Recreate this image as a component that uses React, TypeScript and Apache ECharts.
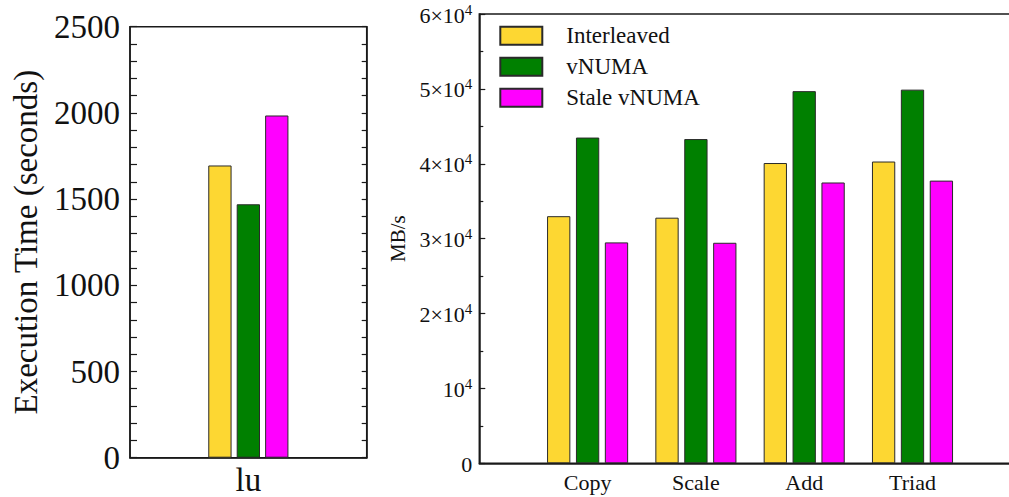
import React, { useEffect, useRef } from "react";
import * as echarts from "echarts";

const FONT = "Liberation Serif";

// Execution time for the lu benchmark
const luCategories = ["lu"];
const luInterleaved = [1695];
const luVnuma = [1470];
const luStaleVnuma = [1985];

// STREAM bandwidth (MB/s)
const streamCategories = ["Copy", "Scale", "Add", "Triad"];
const streamInterleaved = [33000, 32800, 40100, 40300];
const streamVnuma = [43500, 43300, 49700, 49900];
const streamStaleVnuma = [29500, 29450, 37500, 37750];

const seriesNames = ["Interleaved", "vNUMA", "Stale vNUMA"];
const colors = ["#FDD732", "#008000", "#FF00FF"];

const timeTicks = { min: 0, max: 2500, interval: 500 };
const bwTicks = { min: 0, max: 60000, interval: 10000 };

// pad the stream categories so that the groups sit on the inner ticks
const pad = <T,>(arr: T[], fill: T) => [fill, ...arr, fill];

export default function App() {
  const ref = useRef<HTMLDivElement>(null);

  useEffect(() => {
    if (!ref.current) return;
    const chart = echarts.init(ref.current, undefined, { renderer: "svg" });
    const axisLine = { show: true, lineStyle: { color: "#1a1a1a", width: 1.5 } };
    const barStyle = (i: number) => ({
      color: colors[i],
      borderColor: "#2a2a2a",
      borderWidth: 1,
    });

    const supLabel = (v: number) => {
      if (v === 0) return "{b|0}";
      const m = v / 10000;
      if (m === 1) return "{b|10}{s|4}";
      return `{b|${m}\u00d710}{s|4}`;
    };

    const luSets = [luInterleaved, luVnuma, luStaleVnuma];
    const bwSets = [streamInterleaved, streamVnuma, streamStaleVnuma];

    chart.setOption({
      animation: false,
      textStyle: { fontFamily: FONT },
      grid: [
        {
          left: 130,
          top: 26.7,
          right: 642.3,
          bottom: 39.3,
          show: true,
          borderColor: "#1a1a1a",
          borderWidth: 1.5,
          backgroundColor: "transparent",
          outerBoundsMode: "none",
        },
        {
          left: 479.3,
          top: 14,
          right: -11.8,
          bottom: 33.7,
          show: true,
          borderColor: "#1a1a1a",
          borderWidth: 1.5,
          backgroundColor: "transparent",
          outerBoundsMode: "none",
        },
      ],
      legend: {
        orient: "vertical",
        left: 499.3,
        top: 24.3,
        padding: 0,
        itemWidth: 42,
        itemHeight: 18,
        itemGap: 8,
        icon: "rect",
        data: seriesNames,
        selectedMode: false,
        textStyle: {
          fontFamily: FONT,
          fontSize: 23,
          color: "#111",
          padding: [0, 0, 0, 19],
        },
      },
      xAxis: [
        {
          type: "category",
          gridIndex: 0,
          data: luCategories,
          axisLine,
          axisTick: { show: false },
          axisLabel: { fontFamily: FONT, fontSize: 33, color: "#111", margin: 6 },
        },
        {
          type: "category",
          gridIndex: 1,
          data: pad(streamCategories, ""),
          boundaryGap: false,
          axisLine,
          axisTick: { show: false },
          axisLabel: { fontFamily: FONT, fontSize: 22, color: "#111", margin: 8, interval: 0 },
        },
      ],
      yAxis: [
        {
          type: "value",
          gridIndex: 0,
          ...timeTicks,
          name: "Execution Time (seconds)",
          nameLocation: "middle",
          nameGap: 88,
          nameTextStyle: { fontFamily: FONT, fontSize: 33, color: "#111" },
          axisLine,
          axisTick: { show: true, inside: true, length: 7, lineStyle: { color: "#1a1a1a", width: 1.2 } },
          minorTick: { show: true, splitNumber: 5, length: 7, lineStyle: { color: "#1a1a1a", width: 1.2 } },
          splitLine: { show: false },
          axisLabel: { fontFamily: FONT, fontSize: 33, color: "#111", margin: 10, formatter: (v: number) => String(v) },
        },
        {
          type: "value",
          gridIndex: 0,
          position: "right",
          ...timeTicks,
          axisLine,
          axisTick: { show: true, inside: true, length: 5, lineStyle: { color: "#1a1a1a", width: 1.2 } },
          minorTick: { show: true, splitNumber: 5, length: 5, lineStyle: { color: "#1a1a1a", width: 1.2 } },
          splitLine: { show: false },
          axisLabel: { show: false },
        },
        {
          type: "value",
          gridIndex: 1,
          ...bwTicks,
          name: "MB/s",
          nameLocation: "middle",
          nameGap: 66,
          nameTextStyle: { fontFamily: FONT, fontSize: 21, color: "#111" },
          axisLine,
          axisTick: { show: true, inside: true, length: 6, lineStyle: { color: "#1a1a1a", width: 1.2 } },
          minorTick: { show: true, splitNumber: 2, length: 4, lineStyle: { color: "#1a1a1a", width: 1.2 } },
          splitLine: { show: false },
          axisLabel: {
            margin: 7,
            formatter: supLabel,
            rich: {
              b: { fontFamily: FONT, fontSize: 22, color: "#111", lineHeight: 24, verticalAlign: "bottom" },
              s: { fontFamily: FONT, fontSize: 15, color: "#111", verticalAlign: "top", lineHeight: 15 },
            },
          },
        },
      ],
      series: [
        ...seriesNames.map((name, i) => ({
          type: "bar",
          name,
          xAxisIndex: 0,
          yAxisIndex: 0,
          data: luSets[i],
          barWidth: 23.3,
          barGap: "22%",
          itemStyle: barStyle(i),
        })),
        ...seriesNames.map((name, i) => ({
          type: "bar",
          name,
          xAxisIndex: 1,
          yAxisIndex: 2,
          data: pad(bwSets[i] as (number | null)[], null),
          barWidth: 23.3,
          barGap: "24%",
          itemStyle: barStyle(i),
        })),
      ],
    });

    return () => chart.dispose();
  }, []);

  return (
    <div
      ref={ref}
      style={{ position: "absolute", left: 0, top: 0, width: 1009, height: 497, background: "#fff" }}
    />
  );
}
